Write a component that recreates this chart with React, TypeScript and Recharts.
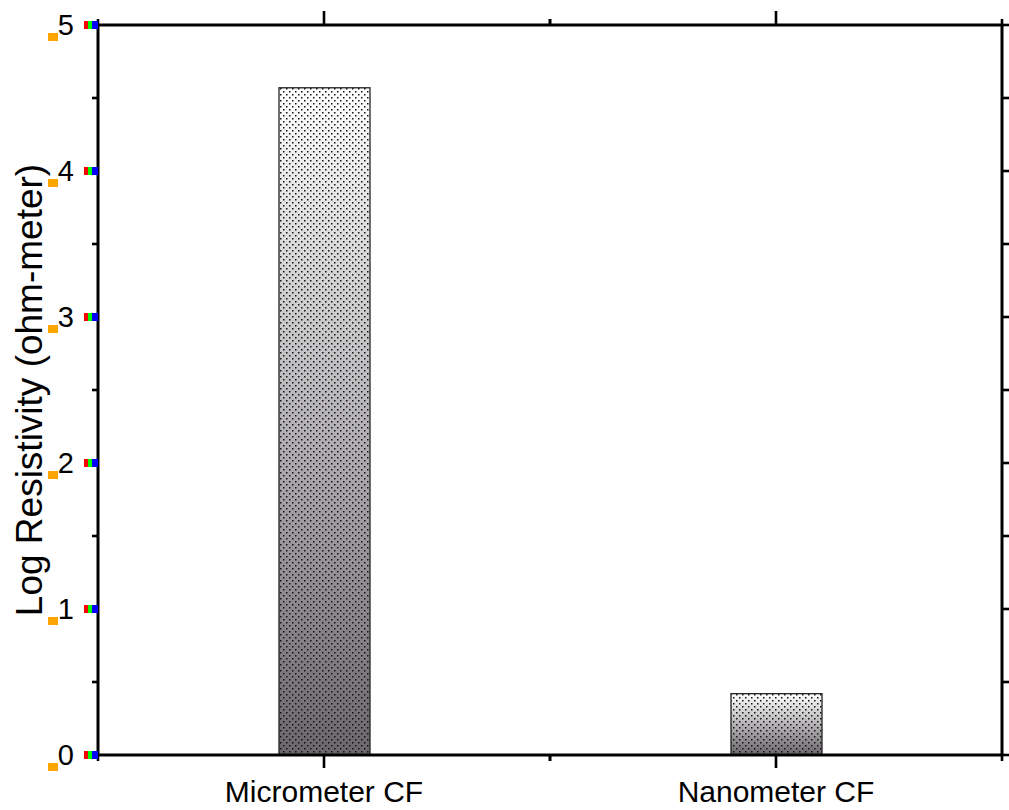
import { Bar, BarChart, XAxis, YAxis } from "recharts";

const categories = ["Micrometer CF", "Nanometer CF"];
const logResistivity = [4.57, 0.42];
const yTicks = [0, 0.5, 1, 1.5, 2, 2.5, 3, 3.5, 4, 4.5, 5];
const yTitle = "Log Resistivity (ohm-meter)";

const FONT = "'Liberation Sans', Arial, sans-serif";
const AXIS = { stroke: "#000", strokeWidth: 3 };
const TW = 2.6;

const data = categories.map((name, i) => ({ name, value: logResistivity[i] }));

function DottedBar(props: any) {
  const { x, y, width, height } = props;
  return (
    <g>
      <rect x={x} y={y} width={width} height={height} fill="url(#barGrad)" />
      <rect x={x} y={y} width={width} height={height} fill="url(#dots)" />
      <rect x={x} y={y} width={width} height={height} fill="none" stroke="#222" strokeWidth={1.3} />
    </g>
  );
}

const hTick = (x: number, y: number, len: number) => (
  <rect x={len < 0 ? x + len : x} y={y - TW / 2} width={Math.abs(len)} height={TW} fill="#000" />
);
const vTick = (x: number, y: number, len: number) => (
  <rect x={x - TW / 2} y={len < 0 ? y + len : y} width={TW} height={Math.abs(len)} fill="#000" />
);

// diagnostic colours on the integer ticks
const leftTick = (props: any) => {
  const x = Number(props.x);
  const y = Number(props.y);
  const v = props.payload.value;
  if (!Number.isInteger(v)) return hTick(x, y, -6);
  return (
    <g>
      <rect x={x - 14} y={y - 4} width={4} height={8} fill="red" />
      <rect x={x - 10} y={y - 4} width={4} height={8} fill="lime" />
      <rect x={x - 6} y={y - 4} width={6} height={8} fill="blue" />
      <rect x={x - 50} y={y + 8} width={10} height={8} fill="orange" />
      <text x={x - 24} y={y} textAnchor="end" dominantBaseline="central" fill="#000" fontSize={29} fontFamily={FONT}>
        {v}
      </text>
    </g>
  );
};
const rightTick = (props: any) => hTick(Number(props.x), Number(props.y), 7);

const bottomTick = (props: any) => {
  const x = Number(props.x);
  const y = Number(props.y);
  const off = Number(props.payload.offset) || 0;
  return (
    <g>
      {vTick(x, y, 13)}
      {off > 0 && vTick(x - off, y, 6)}
      {off > 0 && vTick(x + off, y, 6)}
      <text x={x} y={y + 47} textAnchor="middle" fill="#000" fontSize={30} fontFamily={FONT}>
        {props.payload.value}
      </text>
    </g>
  );
};
const topTick = (props: any) => {
  const x = Number(props.x);
  const y = Number(props.y);
  const off = Number(props.payload.offset) || 0;
  return (
    <g>
      {vTick(x, y, -14)}
      {off > 0 && vTick(x - off, y, -6)}
      {off > 0 && vTick(x + off, y, -6)}
    </g>
  );
};

export default function App() {
  return (
    <div style={{ position: "absolute", left: 0, top: 0, width: 1009, height: 810, background: "#fff" }}>
      <BarChart width={1009} height={810} data={data} margin={{ top: 0, right: 0, bottom: 0, left: 0 }} barCategoryGap={0}>
        <defs>
          <linearGradient id="barGrad" x1="0" y1="0" x2="0" y2="1">
            <stop offset="0%" stopColor="#ffffff" />
            <stop offset="100%" stopColor="#6b676c" />
          </linearGradient>
          <pattern id="dots" width="6" height="6" patternUnits="userSpaceOnUse">
            <rect x="1" y="1" width="1.5" height="1.5" fill="#111" />
            <rect x="4" y="4" width="1.5" height="1.5" fill="#111" />
          </pattern>
        </defs>
        <XAxis xAxisId="main" dataKey="name" height={55} tickSize={0} tickMargin={0} tickLine={false} axisLine={AXIS} tick={bottomTick} />
        <XAxis xAxisId="top" orientation="top" dataKey="name" height={25} tickSize={0} tickMargin={0} tickLine={false} axisLine={AXIS} tick={topTick} />
        <YAxis yAxisId="main" type="number" domain={[0, 5]} ticks={yTicks} width={98} tickSize={0} tickMargin={0} tickLine={false} axisLine={AXIS} tick={leftTick} />
        <YAxis yAxisId="right" orientation="right" type="number" domain={[0, 5]} allowDataOverflow ticks={yTicks} width={7} tickSize={0} tickMargin={0} tickLine={false} axisLine={AXIS} tick={rightTick} />
        <Bar xAxisId="main" yAxisId="main" dataKey="value" barSize={91} shape={DottedBar} isAnimationActive={false} />
      </BarChart>
      <svg width={98} height={810} style={{ position: "absolute", left: 0, top: 0, pointerEvents: "none" }}>
        <text transform="translate(29 390) rotate(-90)" textAnchor="middle" dominantBaseline="central" fill="#000" fontSize={37} fontFamily={FONT}>
          {yTitle}
        </text>
      </svg>
    </div>
  );
}
